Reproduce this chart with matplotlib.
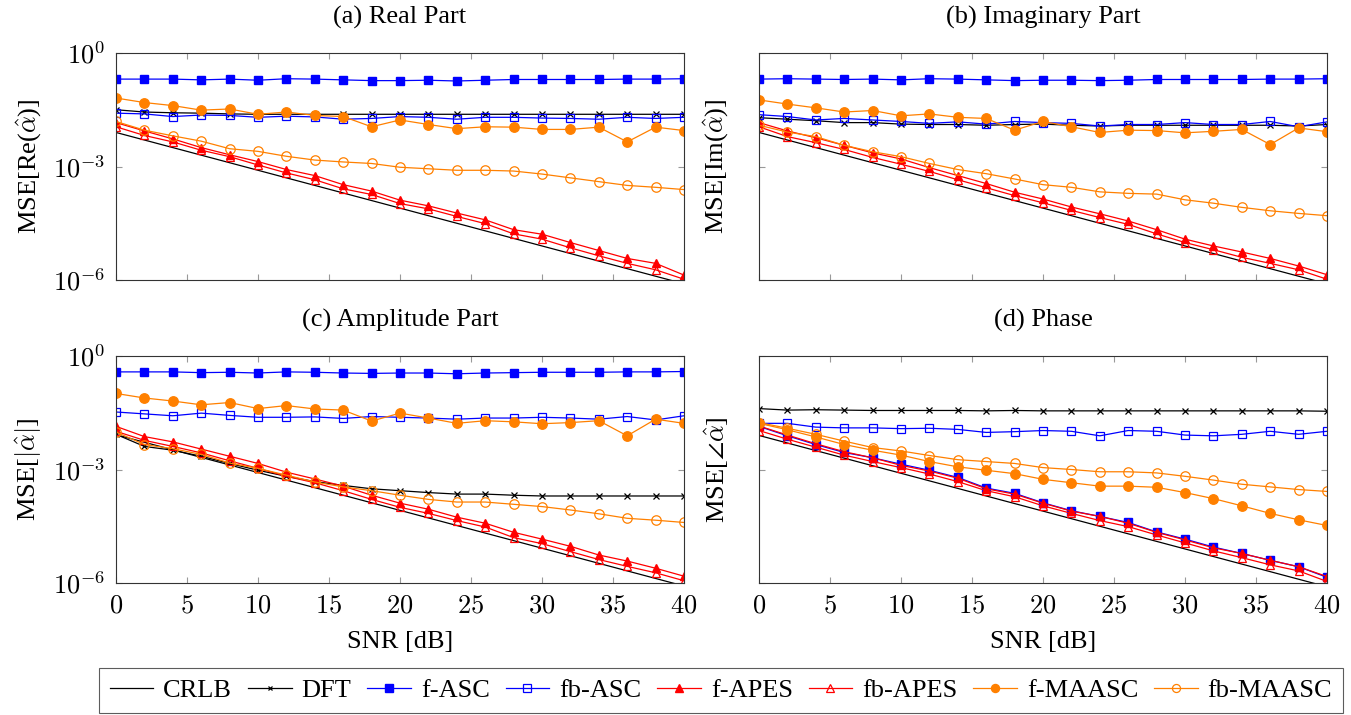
import numpy as np
from matplotlib import pyplot as plt
from matplotlib.ticker import FuncFormatter

plt.rcParams['font.family'] = ['Liberation Serif', 'DejaVu Serif']
plt.rcParams['mathtext.fontset'] = 'cm'

# SNR axis
SNR = [0, 2, 4, 6, 8, 10, 12, 14, 16, 18, 20, 22, 24, 26, 28, 30, 32, 34, 36, 38, 40]

# values below are log10(MSE)

# (a) Real part
a_CRLB = [-2.10, -2.30, -2.50, -2.70, -2.90, -3.10, -3.30, -3.50, -3.70, -3.90, -4.10,
          -4.30, -4.50, -4.70, -4.90, -5.10, -5.30, -5.50, -5.70, -5.90, -6.10]
a_DFT = [-1.50, -1.56, -1.58, -1.59, -1.61, -1.62, -1.62, -1.62, -1.62, -1.62, -1.62,
         -1.62, -1.62, -1.62, -1.62, -1.62, -1.62, -1.62, -1.62, -1.62, -1.62]
a_fASC = [-0.69, -0.69, -0.69, -0.71, -0.69, -0.72, -0.68, -0.69, -0.71, -0.73, -0.73,
          -0.72, -0.74, -0.72, -0.70, -0.70, -0.70, -0.70, -0.69, -0.69, -0.68]
a_fbASC = [-1.59, -1.61, -1.68, -1.64, -1.65, -1.70, -1.67, -1.69, -1.75, -1.73, -1.68,
           -1.70, -1.75, -1.70, -1.70, -1.72, -1.73, -1.75, -1.70, -1.73, -1.70]
a_fAPES = [-1.84, -2.06, -2.27, -2.50, -2.69, -2.87, -3.08, -3.24, -3.48, -3.65, -3.89,
           -4.04, -4.23, -4.41, -4.67, -4.79, -5.01, -5.22, -5.43, -5.56, -5.87]
a_fbAPES = [-1.95, -2.18, -2.35, -2.57, -2.74, -2.96, -3.17, -3.35, -3.59, -3.74, -3.98,
            -4.12, -4.32, -4.51, -4.78, -4.92, -5.15, -5.36, -5.56, -5.73, -5.98]
a_fMAASC = [-1.19, -1.31, -1.39, -1.51, -1.48, -1.62, -1.56, -1.65, -1.68, -1.95, -1.77,
            -1.89, -2.00, -1.95, -1.96, -2.02, -2.02, -1.96, -2.35, -1.96, -2.05]
a_fbMAASC = [-1.81, -2.04, -2.19, -2.33, -2.53, -2.60, -2.73, -2.83, -2.88, -2.92, -3.02,
             -3.06, -3.10, -3.10, -3.12, -3.20, -3.30, -3.40, -3.50, -3.55, -3.61]

# (b) Imaginary part
b_CRLB = a_CRLB
b_DFT = [-1.71, -1.75, -1.79, -1.84, -1.84, -1.88, -1.89, -1.89, -1.91, -1.89, -1.88,
         -1.91, -1.93, -1.91, -1.91, -1.91, -1.91, -1.91, -1.91, -1.93, -1.89]
b_fASC = [-0.69, -0.68, -0.69, -0.70, -0.69, -0.71, -0.68, -0.69, -0.71, -0.73, -0.72,
          -0.72, -0.73, -0.72, -0.70, -0.70, -0.70, -0.70, -0.69, -0.69, -0.68]
b_fbASC = [-1.63, -1.68, -1.77, -1.73, -1.77, -1.81, -1.86, -1.82, -1.88, -1.81, -1.84,
           -1.86, -1.93, -1.89, -1.89, -1.84, -1.89, -1.89, -1.81, -1.95, -1.82]
b_fAPES = [-1.84, -2.06, -2.24, -2.44, -2.64, -2.80, -3.03, -3.24, -3.45, -3.68, -3.86,
           -4.07, -4.25, -4.44, -4.67, -4.92, -5.10, -5.26, -5.43, -5.63, -5.86]
b_fbAPES = [-1.95, -2.21, -2.37, -2.55, -2.76, -2.94, -3.13, -3.35, -3.56, -3.77, -3.96,
            -4.16, -4.35, -4.53, -4.78, -5.01, -5.20, -5.40, -5.56, -5.73, -5.98]
b_fMAASC = [-1.24, -1.35, -1.45, -1.56, -1.52, -1.66, -1.61, -1.70, -1.73, -2.04, -1.81,
            -1.95, -2.10, -2.04, -2.05, -2.11, -2.07, -2.02, -2.42, -1.98, -2.08]
b_fbMAASC = [-1.91, -2.09, -2.21, -2.44, -2.61, -2.74, -2.92, -3.08, -3.19, -3.33, -3.48,
             -3.55, -3.67, -3.71, -3.73, -3.88, -3.97, -4.08, -4.17, -4.24, -4.30]

# (c) Amplitude part
c_CRLB = [-2.08, -2.28, -2.48, -2.68, -2.88, -3.08, -3.28, -3.48, -3.68, -3.88, -4.08,
          -4.28, -4.48, -4.68, -4.88, -5.08, -5.28, -5.48, -5.68, -5.88, -6.08]
c_DFT = [-2.07, -2.39, -2.49, -2.65, -2.84, -3.02, -3.18, -3.32, -3.42, -3.51, -3.56,
         -3.61, -3.65, -3.65, -3.68, -3.70, -3.70, -3.70, -3.70, -3.70, -3.70]
c_fASC = [-0.42, -0.42, -0.42, -0.44, -0.43, -0.45, -0.42, -0.43, -0.45, -0.46, -0.45,
          -0.45, -0.47, -0.45, -0.44, -0.43, -0.43, -0.43, -0.42, -0.42, -0.41]
c_fbASC = [-1.48, -1.53, -1.58, -1.51, -1.57, -1.62, -1.62, -1.61, -1.65, -1.60, -1.62,
           -1.64, -1.67, -1.64, -1.64, -1.62, -1.64, -1.67, -1.60, -1.69, -1.58]
c_fAPES = [-1.86, -2.13, -2.27, -2.46, -2.65, -2.84, -3.07, -3.25, -3.44, -3.68, -3.89,
           -4.05, -4.26, -4.42, -4.66, -4.84, -5.03, -5.26, -5.42, -5.61, -5.82]
c_fbAPES = [-1.99, -2.23, -2.39, -2.56, -2.77, -2.97, -3.18, -3.35, -3.56, -3.79, -4.00,
            -4.16, -4.35, -4.52, -4.80, -4.96, -5.17, -5.38, -5.56, -5.73, -5.94]
c_fMAASC = [-0.99, -1.11, -1.19, -1.29, -1.23, -1.39, -1.31, -1.40, -1.43, -1.72, -1.51,
            -1.64, -1.78, -1.71, -1.74, -1.79, -1.76, -1.71, -2.11, -1.67, -1.78]
c_fbMAASC = [-2.01, -2.34, -2.45, -2.60, -2.83, -2.97, -3.15, -3.33, -3.46, -3.56, -3.68,
             -3.79, -3.86, -3.86, -3.92, -3.98, -4.07, -4.17, -4.29, -4.34, -4.40]

# (d) Phase
d_CRLB = [-2.10, -2.30, -2.50, -2.70, -2.90, -3.10, -3.30, -3.50, -3.70, -3.90, -4.10,
          -4.30, -4.50, -4.70, -4.90, -5.10, -5.30, -5.50, -5.70, -5.90, -6.10]
d_DFT = [-1.39, -1.43, -1.42, -1.43, -1.44, -1.44, -1.44, -1.44, -1.45, -1.44, -1.45,
         -1.45, -1.45, -1.45, -1.45, -1.45, -1.45, -1.45, -1.45, -1.45, -1.46]
d_fASC = [-1.86, -2.11, -2.34, -2.55, -2.69, -2.86, -3.02, -3.21, -3.49, -3.63, -3.88,
          -4.09, -4.24, -4.40, -4.65, -4.84, -5.05, -5.22, -5.40, -5.57, -5.85]
d_fbASC = [-1.78, -1.78, -1.88, -1.90, -1.90, -1.92, -1.91, -1.94, -2.02, -2.00, -1.97,
           -1.99, -2.11, -1.97, -1.99, -2.09, -2.11, -2.07, -1.99, -2.07, -1.99]
d_fAPES = [-1.85, -2.09, -2.32, -2.53, -2.69, -2.89, -3.04, -3.23, -3.51, -3.65, -3.89,
           -4.10, -4.24, -4.42, -4.66, -4.86, -5.07, -5.22, -5.40, -5.57, -5.83]
d_fbAPES = [-1.97, -2.20, -2.41, -2.62, -2.79, -2.95, -3.12, -3.32, -3.56, -3.72, -3.96,
            -4.16, -4.35, -4.51, -4.73, -4.94, -5.15, -5.33, -5.52, -5.68, -5.96]
d_fMAASC = [-1.78, -1.95, -2.14, -2.34, -2.49, -2.62, -2.79, -2.93, -3.02, -3.11, -3.26,
            -3.35, -3.44, -3.44, -3.47, -3.61, -3.77, -3.96, -4.16, -4.33, -4.48]
d_fbMAASC = [-1.76, -1.91, -2.07, -2.25, -2.42, -2.51, -2.63, -2.74, -2.79, -2.84, -2.95,
             -3.00, -3.06, -3.06, -3.09, -3.18, -3.28, -3.39, -3.46, -3.53, -3.58]

Methods = ['CRLB', 'DFT', 'f-ASC', 'fb-ASC', 'f-APES', 'fb-APES', 'f-MAASC', 'fb-MAASC']
Titles = ['(a) Real Part', '(b) Imaginary Part', '(c) Amplitude Part', '(d) Phase']
YLabels = [r'MSE[Re($\hat{\alpha}$)]', r'MSE[Im($\hat{\alpha}$)]',
           r'MSE[$|\hat{\alpha}|$]', r'MSE[$\angle\hat{\alpha}$]']

panels = [
    [a_CRLB, a_DFT, a_fASC, a_fbASC, a_fAPES, a_fbAPES, a_fMAASC, a_fbMAASC],
    [b_CRLB, b_DFT, b_fASC, b_fbASC, b_fAPES, b_fbAPES, b_fMAASC, b_fbMAASC],
    [c_CRLB, c_DFT, c_fASC, c_fbASC, c_fAPES, c_fbAPES, c_fMAASC, c_fbMAASC],
    [d_CRLB, d_DFT, d_fASC, d_fbASC, d_fAPES, d_fbAPES, d_fMAASC, d_fbMAASC],
]

orange = '#ff8000'
style = {
    'CRLB': dict(color='black', marker=None),
    'DFT': dict(color='black', marker='x', ms=4, mew=0.9),
    'f-ASC': dict(color='blue', marker='s', ms=6.2),
    'fb-ASC': dict(color='blue', marker='s', ms=6.2, mfc='none', mew=0.9),
    'f-APES': dict(color='red', marker='^', ms=6),
    'fb-APES': dict(color='red', marker='^', ms=6, mfc='none', mew=0.9),
    'f-MAASC': dict(color=orange, marker='o', ms=6.8),
    'fb-MAASC': dict(color=orange, marker='o', ms=6.8, mfc='none', mew=0.9),
}

FS = 19
W, H = 1351, 715
fig = plt.figure(figsize=(W / 100, H / 100), dpi=100)
rects = [(116, 53), (759, 53), (116, 356), (759, 356)]

for i, (x0, y0) in enumerate(rects):
    ax = fig.add_axes([x0 / W, 1 - (y0 + 227) / H, 568 / W, 227 / H])
    for name, vals in zip(Methods, panels[i]):
        ax.plot(SNR, 10.0 ** np.array(vals), lw=0.9, label=name, **style[name])
    ax.set_yscale('log')
    ax.set_xlim(0, 40)
    ax.set_ylim(1e-6, 1)
    ax.set_yticks([1e-6, 1e-3, 1e0])
    ax.minorticks_off()
    ax.set_xticks([0, 5, 10, 15, 20, 25, 30, 35, 40])
    ax.xaxis.set_major_formatter(FuncFormatter(lambda v, p: '$%d$' % v))
    ax.yaxis.set_major_formatter(FuncFormatter(lambda v, p: '$10^{%d}$' % round(np.log10(v))))
    ax.tick_params(direction='in', top=True, right=True, length=4,
                   color='#999999', labelsize=FS)
    ax.tick_params(axis='y', pad=8)
    ax.tick_params(axis='x', pad=9)
    for sp in ax.spines.values():
        sp.set_color('#333333')
        sp.set_linewidth(0.8)
    ax.set_title(Titles[i], fontsize=FS, pad=21)
    if i in (1, 3):
        ax.tick_params(labelleft=False)
        ax.set_ylabel(YLabels[i], fontsize=FS, labelpad=20)
    else:
        ax.set_ylabel(YLabels[i], fontsize=FS, labelpad=6)
    if i in (0, 1):
        ax.tick_params(labelbottom=False)
    else:
        ax.set_xlabel('SNR [dB]', fontsize=FS, labelpad=10)
    if i == 0:
        handles, labels = ax.get_legend_handles_labels()

leg = fig.legend(handles, labels, loc='center', bbox_to_anchor=(721 / W, 1 - 690.5 / H),
                 ncol=8, fontsize=FS, frameon=True, fancybox=False, edgecolor='#333333',
                 handlelength=1.65, handletextpad=0.38, columnspacing=0.6,
                 borderpad=0.4, borderaxespad=0, markerscale=0.85)
leg.get_frame().set_linewidth(0.8)

fig.savefig('out.png', dpi=100)
